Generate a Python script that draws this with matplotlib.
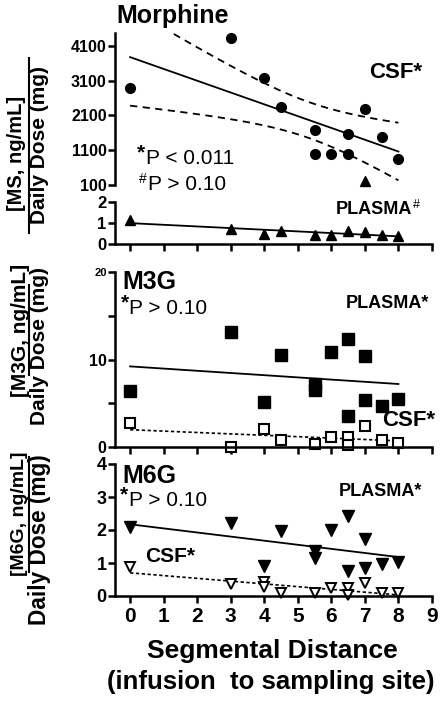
"""Morphine / M3G / M6G concentration-to-dose ratios vs segmental distance."""
import matplotlib.pyplot as plt
import numpy as np
from matplotlib.lines import Line2D

plt.rcParams['font.family'] = ['Liberation Sans', 'DejaVu Sans']

# morphine, CSF
ms_csf_x = [0, 3, 4, 4.5, 5.5, 5.5, 6, 6.5, 6.5, 7, 7.5, 8]
ms_csf_y = [2900, 4320, 3180, 2350, 1680, 1000, 1000, 1560, 1000, 2290, 1480, 840]
ms_extra_x = [7]
ms_extra_y = [220]
# morphine, plasma
ms_pl_x = [0, 3, 4, 4.5, 5.5, 6, 6.5, 7, 7.5, 8]
ms_pl_y = [1.15, 0.72, 0.48, 0.6, 0.41, 0.45, 0.64, 0.58, 0.41, 0.4]
# M3G
m3g_pl_x = [0, 3, 4, 4.5, 5.5, 5.5, 6, 6.5, 6.5, 7, 7, 7.5, 8]
m3g_pl_y = [6.4, 13.2, 5.2, 10.5, 7.2, 6.5, 10.9, 12.4, 3.6, 10.4, 5.4, 4.7, 5.5]
m3g_csf_x = [0, 3, 4, 4.5, 5.5, 6, 6.5, 6.5, 7, 7.5, 8]
m3g_csf_y = [2.8, 0.0, 2.1, 0.8, 0.4, 1.2, 1.2, 0.2, 2.4, 0.8, 0.5]
# M6G
m6g_pl_x = [0, 3, 4, 4.5, 5.5, 5.5, 6, 6.5, 6.5, 7, 7, 7.5, 8]
m6g_pl_y = [2.1, 2.2, 0.9, 1.97, 1.35, 1.15, 2.0, 2.42, 0.76, 1.72, 0.84, 0.98, 1.04]
m6g_csf_x = [0, 3, 4, 4, 4.5, 5.5, 6, 6.5, 6.5, 7, 7.5, 8]
m6g_csf_y = [0.89, 0.36, 0.42, 0.28, 0.08, 0.1, 0.25, 0.25, 0.02, 0.38, 0.08, 0.08]

x_ticks = list(range(10))

W, H = 444, 703
fig = plt.figure(figsize=(W / 100, H / 100), dpi=100)


def px_axes(top, bottom, left=115, right=432):
    return fig.add_axes([left / W, 1 - bottom / H, (right - left) / W, (bottom - top) / H])


def style(ax, ylim, yticks, ylabels, fs, xaxis=True, xlabels=False):
    ax.set_xlim(-0.45, 9.0)
    ax.set_ylim(*ylim)
    for s in ['top', 'right']:
        ax.spines[s].set_visible(False)
    ax.spines['left'].set_linewidth(1.8)
    ax.spines['bottom'].set_linewidth(1.8)
    ax.set_yticks(yticks)
    ax.set_yticklabels(ylabels, fontsize=fs, fontweight='bold')
    ax.tick_params(axis='y', length=5, width=1.8, pad=1)
    if xaxis:
        ax.set_xticks(x_ticks)
        ax.tick_params(axis='x', length=5, width=1.8, pad=3)
        if xlabels:
            ax.set_xticklabels([str(t) for t in x_ticks], fontsize=15, fontweight='bold')
        else:
            ax.set_xticklabels([])
    else:
        ax.spines['bottom'].set_visible(False)
        ax.set_xticks([])
    ax.patch.set_alpha(0)


def fit_line(ax, x, y, **kw):
    x = np.asarray(x, float)
    y = np.asarray(y, float)
    b, a = np.polyfit(x, y, 1)
    xs = np.linspace(0, 8, 50)
    ax.plot(xs, a + b * xs, **kw)
    return x, y, a, b, xs


# ---- morphine CSF
ax1 = px_axes(33, 185)
style(ax1, (100, 4470), [100, 1100, 2100, 3100, 4100],
      ['100', '1100', '2100', '3100', '4100'], 11.5, xaxis=False)
x, y, a, b, xs = fit_line(ax1, ms_csf_x, ms_csf_y, color='black', lw=1.3)
n = len(x)
resid = y - (a + b * x)
s = np.sqrt(np.sum(resid ** 2) / (n - 2))
sxx = np.sum((x - x.mean()) ** 2)
se = s * np.sqrt(1 / n + (xs - x.mean()) ** 2 / sxx)
t = 2.228  # t(0.975, 10)
ax1.plot(xs, a + b * xs + t * se, color='black', lw=1.3, ls=(0, (4, 3)))
ax1.plot(xs, a + b * xs - t * se, color='black', lw=1.3, ls=(0, (4, 3)))
ax1.plot(ms_csf_x, ms_csf_y, 'o', color='black', ms=7, clip_on=False)
ax1.plot(ms_extra_x, ms_extra_y, '^', color='black', ms=7, clip_on=False)

# ---- morphine plasma
ax2 = px_axes(202, 244)
style(ax2, (0, 2), [0, 1, 2], ['0', '1', '2'], 12)
fit_line(ax2, ms_pl_x, ms_pl_y, color='black', lw=1.3)
ax2.plot(ms_pl_x, ms_pl_y, '^', color='black', ms=7, clip_on=False)

# ---- M3G
ax3 = px_axes(272, 447)
style(ax3, (0, 20), [0, 5, 10, 15, 20], ['0', '', '10', '', '20'], 11.5)
ax3.get_yticklabels()[4].set_fontsize(8)
fit_line(ax3, m3g_pl_x, m3g_pl_y, color='black', lw=1.3)
fit_line(ax3, m3g_csf_x, m3g_csf_y, color='black', lw=1.2, ls=(0, (2, 1.5)))
ax3.plot(m3g_pl_x, m3g_pl_y, 's', color='black', ms=8.5, clip_on=False)
ax3.plot(m3g_csf_x, m3g_csf_y, 's', mfc='white', mec='black', mew=1.5, ms=6.5,
         clip_on=False)

# ---- M6G
ax4 = px_axes(464, 596)
style(ax4, (0, 4), [0, 1, 2, 3, 4], ['0', '1', '2', '3', '4'], 13, xlabels=True)
fit_line(ax4, m6g_pl_x, m6g_pl_y, color='black', lw=1.3)
fit_line(ax4, m6g_csf_x, m6g_csf_y, color='black', lw=1.2, ls=(0, (2, 1.5)))
ax4.plot(m6g_pl_x, m6g_pl_y, 'v', color='black', ms=8, clip_on=False)
ax4.plot(m6g_csf_x, m6g_csf_y, 'v', mfc='white', mec='black', mew=1.4, ms=7.5,
         clip_on=False)


def ftext(px, py, s, **kw):
    kw.setdefault('va', 'center')
    kw.setdefault('ha', 'left')
    fig.text(px / W, 1 - py / H, s, **kw)


# panel titles and annotations
ftext(116, 16, 'Morphine', fontsize=18, fontweight='bold')
ftext(369, 72, 'CSF*', fontsize=16, fontweight='bold')
ftext(137, 153, '*', fontsize=15, fontweight='bold')
ftext(146, 159, 'P < 0.011', fontsize=15)
ftext(139, 179, '#', fontsize=10)
ftext(148, 184, 'P > 0.10', fontsize=15)
ftext(336, 210, 'PLASMA', fontsize=13, fontweight='bold')
ftext(413, 205, '#', fontsize=9)

ftext(122, 282, 'M3G', fontsize=18, fontweight='bold')
ftext(121, 303, '*', fontsize=15, fontweight='bold')
ftext(129, 309, 'P > 0.10', fontsize=15)
ftext(346, 304, 'PLASMA*', fontsize=13, fontweight='bold')
ftext(382, 421, 'CSF*', fontsize=16, fontweight='bold')

ftext(122, 476, 'M6G', fontsize=18, fontweight='bold')
ftext(120, 495, '*', fontsize=15, fontweight='bold')
ftext(129, 501, 'P > 0.10', fontsize=15)
ftext(339, 492, 'PLASMA*', fontsize=13, fontweight='bold')
ftext(145, 557, 'CSF*', fontsize=15, fontweight='bold')

# x axis title
ftext(272, 651, 'Segmental Distance', fontsize=19, fontweight='bold', ha='center')
ftext(271, 682, '(infusion  to sampling site)', fontsize=18.5, fontweight='bold',
      ha='center')

# y axis titles drawn as fractions
narrow = ['Liberation Sans Narrow', 'Liberation Sans', 'DejaVu Sans']
ylab = [
    ('[MS, ng/mL]', 17, 153, 14.5, 40, 145, 15, 28.5, 58, 233, None),
    ('[M3G, ng/mL]', 21, 330, 15, 40, 346, 15, 29, 285, 375, narrow),
    ('[M6G, ng/mL]', 20, 514, 14, 40, 540, 16.3, 28.5, 457, 572, None),
]
for top_txt, ux, uy, ufs, lx, ly, lfs, lnx, y0, y1, fam in ylab:
    extra = {'family': fam} if fam else {}
    ftext(ux, uy, top_txt, fontsize=ufs, fontweight='bold', rotation=90, ha='center',
          **extra)
    ftext(lx, ly, 'Daily Dose (mg)', fontsize=lfs, fontweight='bold', rotation=90,
          ha='center', **extra)
    fig.add_artist(Line2D([lnx / W, lnx / W], [1 - y0 / H, 1 - y1 / H],
                          transform=fig.transFigure, color='black', lw=1.5))

fig.savefig('out.png', dpi=100)
